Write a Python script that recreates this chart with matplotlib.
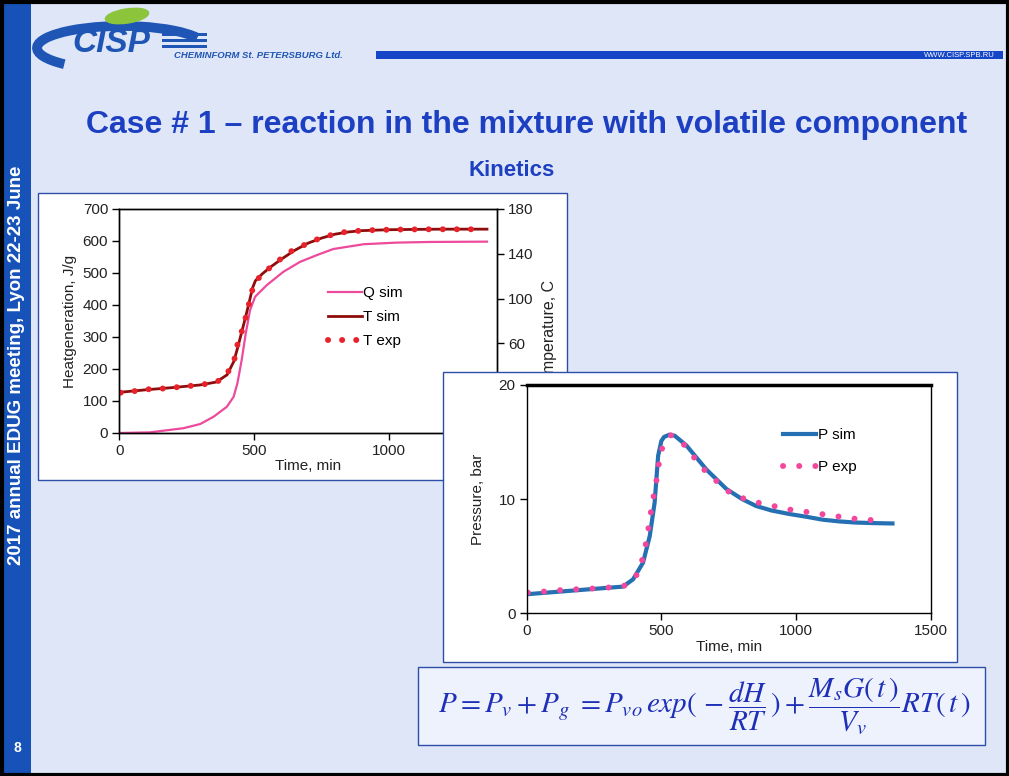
import matplotlib
matplotlib.use("Agg")
import matplotlib.pyplot as plt
from matplotlib.patches import Rectangle, Ellipse, Arc

plt.rcParams['font.family'] = ['Liberation Sans', 'DejaVu Sans']
plt.rcParams['mathtext.fontset'] = 'stix'

# ---- chart 1: kinetics (heat generation / temperature) ----
t_qsim = [0, 114, 238, 300, 350, 399, 424, 438, 454, 469, 485, 504, 547, 609, 671, 733, 794, 907, 1030, 1153, 1364]
q_sim = [0, 2, 15, 28, 51, 82, 113, 155, 228, 311, 384, 426, 462, 504, 535, 556, 575, 590, 595, 597, 598]

t_tsim = [0, 100, 200, 300, 360, 400, 425, 440, 455, 470, 485, 495, 505, 530, 560, 600, 650, 700, 750, 800, 850, 900, 1000, 1100, 1200, 1364]
temp_sim = [16.3, 18.6, 20.6, 22.9, 25.5, 32, 44, 57, 71, 85, 100, 110, 116, 122, 128, 135, 143, 149.5, 154, 157.5, 159.5, 160.7, 161.5, 161.8, 162.0, 162.0]

t_texp = [5, 50, 104, 157, 210, 262, 314, 364, 402, 427, 436, 454, 469, 481, 494, 519, 557, 597, 641, 689, 735, 782, 838, 893, 947, 999, 1052, 1104, 1157, 1212, 1265, 1317]
temp_exp = [16.0, 17.2, 19.0, 19.6, 20.8, 22.0, 23.5, 25.8, 33.8, 45.8, 57.1, 70.5, 83.3, 95.2, 108.3, 119.0, 127.3, 135.1, 142.8, 148.2, 153.0, 156.5, 159.5, 160.6, 161.2, 161.5, 161.7, 161.8, 161.9, 161.9, 161.9, 161.9]

# ---- chart 2: pressure ----
t_psim = [0, 358, 395, 432, 457, 475, 488, 500, 510, 530, 550, 593, 667, 741, 800, 852, 910, 975, 1040, 1099, 1160, 1222, 1290, 1358]
p_sim = [1.67, 2.34, 2.98, 4.44, 6.78, 9.7, 13.8, 15.1, 15.45, 15.65, 15.55, 14.7, 12.6, 10.9, 10.0, 9.4, 9.0, 8.7, 8.45, 8.2, 8.05, 7.95, 7.9, 7.87]

t_pexp = [4, 62, 121, 179, 238, 299, 358, 405, 427, 441, 451, 460, 470, 481, 489, 502, 535, 583, 620, 658, 704, 747, 800, 858, 917, 973, 1033, 1093, 1151, 1210, 1269, 1327]
p_exp = [1.81, 1.90, 2.02, 2.10, 2.16, 2.25, 2.34, 3.19, 4.5, 5.9, 7.28, 8.74, 10.1, 11.5, 12.9, 14.4, 15.6, 14.8, 13.7, 12.6, 11.6, 10.7, 10.1, 9.7, 9.4, 9.1, 8.9, 8.7, 8.5, 8.3, 8.2, 8.0]

W, H = 1009, 776
BG = '#dfe6f8'
BLUE = '#1d3fc2'
SIDE = '#1652b8'
TXT = '#222222'


def fx(px):
    return px / W


def fy(py):
    return 1 - py / H


def box(x0, y0, x1, y1):
    # left, bottom, width, height in figure fraction from pixel corners
    return [fx(x0), fy(y1), (x1 - x0) / W, (y1 - y0) / H]


def rect(x0, y0, x1, y1, **kw):
    r = Rectangle((fx(x0), fy(y1)), (x1 - x0) / W, (y1 - y0) / H,
                  transform=fig.transFigure, **kw)
    fig.add_artist(r)
    return r


def style_axes(ax):
    for s in ax.spines.values():
        s.set_color('black')
        s.set_linewidth(1.0)
    ax.tick_params(direction='out', length=5, width=1, colors='black',
                   labelcolor=TXT, labelsize=11, pad=3)


fig = plt.figure(figsize=(W / 100, H / 100), dpi=100)
fig.patch.set_facecolor(BG)

# slide frame and side bar
rect(0, 0, 31, H, facecolor=SIDE, edgecolor='none', zorder=0.2)
rect(1.5, 1.5, W - 1.5, H - 1.5, facecolor='none', edgecolor='black', linewidth=3, zorder=10)
fig.text(fx(17), fy(365), '2017 annual EDUG meeting, Lyon 22-23 June', rotation=90,
         color='white', fontsize=13.5, fontweight='bold', ha='center', va='center')
fig.text(fx(17), fy(748), '8', color='white', fontsize=10, fontweight='bold',
         ha='center', va='center')

# header: logo and bar
fig.add_artist(Arc((fx(122), fy(48)), 170 / W, 44 / H, theta1=10, theta2=200,
                   color='#1f56b5', linewidth=7, transform=fig.transFigure, zorder=1))
fig.add_artist(Ellipse((fx(127), fy(16)), 44 / W, 14 / H, angle=12, color='#8cc43c',
                       transform=fig.transFigure, zorder=1.1))
fig.text(fx(72), fy(44), 'CISP', color='#1f56b5', fontsize=24, fontweight='bold',
         fontstyle='italic', ha='left', va='center', zorder=1.2)
for yy in [34, 40, 46]:
    rect(162, yy - 1.5, 207, yy + 1.5, facecolor='#1f56b5', edgecolor='none', zorder=1)
fig.text(fx(174), fy(56), 'CHEMINFORM St. PETERSBURG Ltd.', color='#1f56b5', fontsize=6.8,
         fontweight='bold', fontstyle='italic', ha='left', va='center')
rect(376, 51, 1003, 59, facecolor='#1646c8', edgecolor='none', zorder=1)
fig.text(fx(995), fy(55.5), 'WWW.CISP.SPB.RU', color='white', fontsize=5.5,
         ha='right', va='center', zorder=2)

# titles
fig.text(fx(527), fy(125), 'Case # 1 \u2013 reaction in the mixture with volatile component',
         color=BLUE, fontsize=23, fontweight='bold', ha='center', va='center')
fig.text(fx(512), fy(171), 'Kinetics', color=BLUE, fontsize=16, fontweight='bold',
         ha='center', va='center')

# ---- chart 1 ----
rect(38, 193, 567, 480, facecolor='white', edgecolor='#2d4ea8', linewidth=1, zorder=1)
ax1 = fig.add_axes(box(119.3, 209, 496.7, 433))
ax1.set_zorder(2)
ax1.set_facecolor('none')
tw = ax1.twinx()
tw.set_zorder(2.1)
style_axes(ax1)
style_axes(tw)

l_q, = ax1.plot(t_qsim, q_sim, color='#ee4a9c', linewidth=1.6, label='Q sim')
l_t, = tw.plot(t_tsim, temp_sim, color='#8e0c0c', linewidth=2.0, label='T sim')
l_e, = tw.plot(t_texp, temp_exp, color='#e8222a', linewidth=4.3,
               linestyle=(0, (0.01, 2.35)), dash_capstyle='round', label='T exp')

ax1.set_xlim(0, 1400)
ax1.set_ylim(0, 700)
ax1.set_yticks(range(0, 701, 100))
ax1.set_xticks([0, 500, 1000])
tw.set_ylim(-20, 180)
tw.set_yticks([-20, 20, 60, 100, 140, 180])
ax1.set_xlabel('Time, min', fontsize=11, color=TXT, labelpad=1)
ax1.set_ylabel('Heatgeneration, J/g', fontsize=11, color=TXT, labelpad=4)
tw.set_ylabel('Temperature, C', fontsize=11.5, color=TXT, labelpad=4)
tw.yaxis.set_label_coords(1.12, 0.44)
ax1.legend(handles=[l_q, l_t, l_e], loc='upper left', bbox_to_anchor=(0.553, 0.655),
           frameon=False, fontsize=11, handlelength=2.2, handletextpad=0.1,
           labelspacing=0.65, borderpad=0, borderaxespad=0)

# ---- chart 2 ----
rect(443, 372, 957, 662, facecolor='white', edgecolor='#2d4ea8', linewidth=1, zorder=3)
ax2 = fig.add_axes(box(526.7, 385, 930.7, 613.3))
ax2.set_zorder(4)
ax2.set_facecolor('none')
style_axes(ax2)
ax2.spines['top'].set_linewidth(2.5)

l_ps, = ax2.plot(t_psim, p_sim, color='#2470b3', linewidth=3.0, label='P sim')
l_pe, = ax2.plot(t_pexp, p_exp, color='#f2479c', linewidth=4.3,
                 linestyle=(0, (0.01, 2.7)), dash_capstyle='round', label='P exp')
ax2.set_xlim(0, 1500)
ax2.set_ylim(0, 20)
ax2.set_xticks([0, 500, 1000, 1500])
ax2.set_yticks([0, 10, 20])
ax2.set_xlabel('Time, min', fontsize=11, color=TXT, labelpad=1)
ax2.set_ylabel('Pressure, bar', fontsize=11, color=TXT, labelpad=10)
ax2.legend(handles=[l_ps, l_pe], loc='upper left', bbox_to_anchor=(0.634, 0.811),
           frameon=False, fontsize=11, handlelength=2.2, handletextpad=0.1,
           labelspacing=1.2, borderpad=0, borderaxespad=0)

# ---- equation box ----
rect(418, 667, 985, 745, facecolor='#eef2fc', edgecolor='#2d4ea8', linewidth=1, zorder=5)
fig.text(fx(704), fy(706),
         r'$P = P_v + P_g\; = P_{vo}\, exp(\,-\dfrac{dH}{RT}\,) + \dfrac{M_s G(\,t\,)}{V_v} RT(\,t\,)$',
         color='#1e2fb8', fontsize=21, ha='center', va='center', zorder=6)

fig.savefig('out.png', dpi=100, facecolor=fig.get_facecolor())
